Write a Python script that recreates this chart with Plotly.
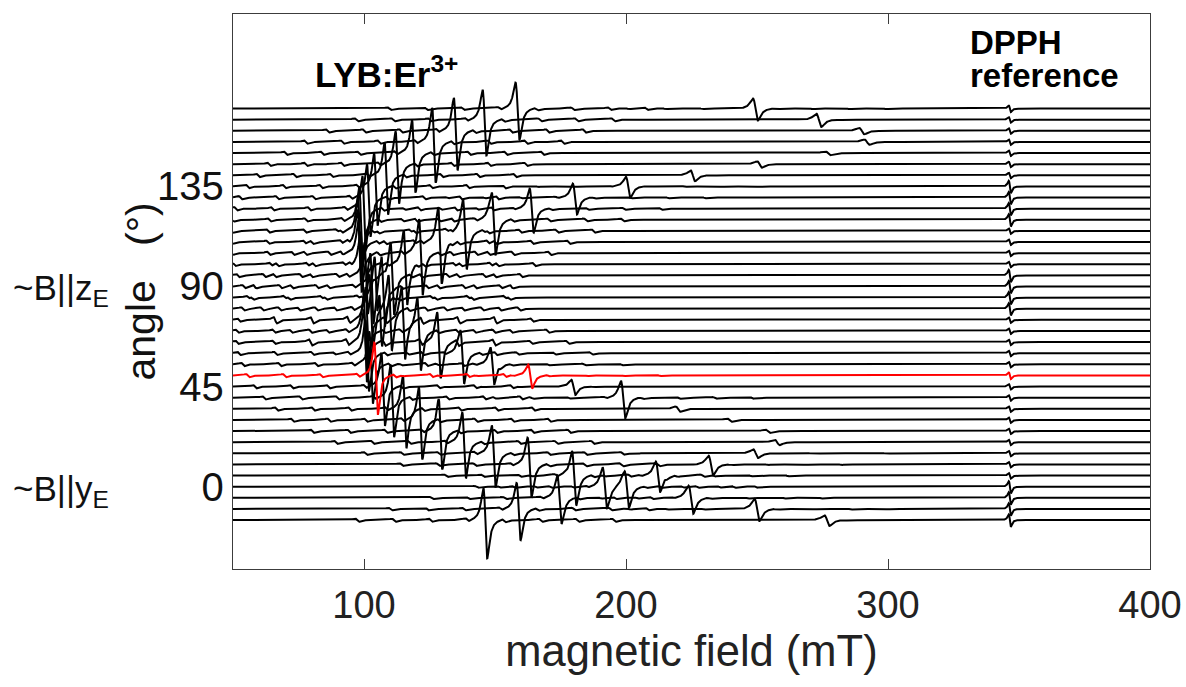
import numpy as np
import plotly.graph_objects as go

# ---------------- data ----------------
angles = [-15, -10, -5, 0, 5, 10, 15, 20, 25, 30, 35, 40, 45, 50, 55, 60, 65, 70, 75,
          80, 85, 90, 95, 100, 105, 110, 115, 120, 125, 130, 135, 140, 145, 150, 155,
          160, 165, 170]

# resonance field (mT) of the Er3+ line of site I for each angle
site1_field = [146.3, 159.0, 174.6, 191.9, 212.2, 232.4, 249.5, 257.7, 254.0, 239.4,
               219.8, 198.9, 179.9, 163.4, 149.0, 137.5, 128.6, 121.0, 115.0, 110.0,
               106.3, 103.0, 100.8, 99.3, 98.5, 98.2, 98.3, 98.8, 100.0, 101.8,
               104.5, 108.5, 112.7, 119.0, 126.7, 135.0, 146.0, 158.6]
# signal amplitude of site I (in units of the angle axis)
site1_amp = [14.4, 11.7, 9.9, 8.5, 6.3, 4.0, 1.8, 1.1, 0.7, 0.7,
             1.1, 7.6, 3.1, 4.9, 7.6, 11.2, 13.5, 14.4, 14.8, 14.8,
             14.8, 14.8, 14.8, 14.8, 14.8, 14.8, 14.8, 14.8, 14.8, 14.8,
             14.8, 14.8, 14.8, 14.8, 15.3, 14.8, 13.5, 11.7]

# resonance field (mT) of site II
site2_field = [276.7, 250.0, 224.8, 200.3, 180.2, 163.2, 149.5, 138.2, 129.2, 121.6,
               115.5, 110.8, 107.3, 104.6, 102.7, 101.2, 100.5, 100.5, 101.2, 102.7,
               104.6, 107.3, 110.8, 115.8, 121.7, 129.0, 138.5, 149.5, 164.0, 180.5,
               200.8, 225.5, 251.0, 277.0, 292.0, 290.0, 273.6, 249.4]
site2_amp = [2.2, 4.5, 5.8, 7.6, 11.2, 12.1, 12.6, 13.5, 14.4, 14.8,
             14.8, 14.8, 14.8, 14.8, 14.8, 14.8, 14.8, 14.8, 14.8, 14.8,
             14.8, 14.8, 14.8, 15.3, 15.7, 15.7, 14.4, 13.0, 9.0, 6.3,
             4.3, 2.2, 1.3, 0.8, 1.1, 1.3, 2.7, 4.5]

# DPPH reference line
dpph_field = 346.5
dpph_amp = [2.5, 2.5, 2.5, 2.5, 1.1, 1.1, 1.1, 1.1, 1.1, 1.1,
            1.1, 1.1, 1.1, 1.35, 1.1, 1.1, 1.1, 1.1, 1.1, 2.5,
            2.5, 2.5, 2.5, 1.1, 1.1, 1.1, 1.1, 2.5, 2.5, 2.5,
            2.5, 1.1, 1.1, 1.1, 1.1, 1.1, 1.1, 1.3]

highlighted_angle = 50

# 167Er hyperfine satellites (offsets in mT, relative intensity)
hf_offsets = [-49, -35, -21, -7, 7, 21, 35, 49]
hf_rel = 0.045

x_ticks = [100, 200, 300, 400]
y_ticks = [0, 45, 90, 135]

# ---------------- line-shape rendering ----------------
field = np.arange(50.0, 400.0001, 0.1)
NEG_LOBE = 1.2


def dlor(B, B0, dBpp):
    hw = dBpp * np.sqrt(3) / 2
    x = (B - B0) / hw
    s = -x / (1 + x * x) ** 2 / 0.3248
    return np.where(s < 0, s * NEG_LOBE, s)


def width_pp(B0):
    return 1.3 + 0.004 * (B0 - 100)


def spectrum(i):
    y = np.zeros_like(field)
    for f, a in ((site1_field[i], site1_amp[i]), (site2_field[i], site2_amp[i])):
        w = width_pp(f)
        y += a * dlor(field, f, w)
        for off in hf_offsets:
            y += a * hf_rel * dlor(field, f + off, w)
    y += dpph_amp[i] * dlor(field, dpph_field, 0.8)
    return y


fig = go.Figure()
order = [i for i, a in enumerate(angles) if a != highlighted_angle] + \
        [i for i, a in enumerate(angles) if a == highlighted_angle]
for i in order:
    a = angles[i]
    red = a == highlighted_angle
    fig.add_trace(go.Scatter(
        x=field, y=a + spectrum(i), mode="lines",
        line=dict(color="#ff0000" if red else "#000000", width=2.0),
        hoverinfo="skip", showlegend=False))

FONT = "Liberation Sans, Arial, sans-serif"
AX = "#3c3c3c"

fig.update_layout(
    width=1186, height=687,
    margin=dict(l=233, r=36, t=14, b=118, autoexpand=False),
    plot_bgcolor="white", paper_bgcolor="white",
    font=dict(family=FONT, color="#111111"),
    showlegend=False,
    xaxis=dict(range=[50, 400], tickvals=x_ticks, ticktext=[str(v) for v in x_ticks],
               ticks="inside", ticklen=10, tickwidth=1, tickcolor=AX,
               showline=True, linecolor=AX, linewidth=1.3, mirror="ticks",
               showgrid=False, zeroline=False, automargin=False,
               tickfont=dict(size=38, color="#222222"), ticklabelstandoff=2,
               title=dict(text="magnetic field (mT)", font=dict(size=43.5, color="#222222"),
                          standoff=10)),
    yaxis=dict(range=[-37, 212.5], tickvals=y_ticks, ticktext=[str(v) for v in y_ticks],
               ticks="", showline=True, linecolor=AX, linewidth=1.3, mirror=True,
               showgrid=False, zeroline=False, automargin=False,
               tickfont=dict(size=40, color="#111111"), ticklabelstandoff=0),
)

annotations = [
    dict(text="angle\u00a0\u00a0 (°)", xref="paper", yref="paper", x=0, y=0.5, xshift=-93,
         textangle=-90, showarrow=False, xanchor="center", yanchor="middle",
         font=dict(size=41, color="#111111")),
    dict(text="~B||z<sub>E</sub>", xref="paper", yref="y", x=0, y=90, xshift=-222,
         showarrow=False, xanchor="left", yanchor="middle", yshift=-4,
         font=dict(size=35, color="#111111")),
    dict(text="~B||y<sub>E</sub>", xref="paper", yref="y", x=0, y=0, xshift=-222,
         showarrow=False, xanchor="left", yanchor="middle", yshift=-4,
         font=dict(size=35, color="#111111")),
    dict(text="<b>LYB:Er<sup>3+</sup></b>", xref="x", yref="y", x=80.4, y=186.5,
         showarrow=False, xanchor="left", yanchor="middle",
         font=dict(size=35, color="#000000")),
    dict(text="<b>DPPH</b>", xref="x", yref="y", x=330.4, y=199.5,
         showarrow=False, xanchor="left", yanchor="middle",
         font=dict(size=33, color="#000000")),
    dict(text="<b>reference</b>", xref="x", yref="y", x=330.4, y=185,
         showarrow=False, xanchor="left", yanchor="middle",
         font=dict(size=33, color="#000000")),
]
fig.update_layout(annotations=annotations)

fig.write_html("out.html")
